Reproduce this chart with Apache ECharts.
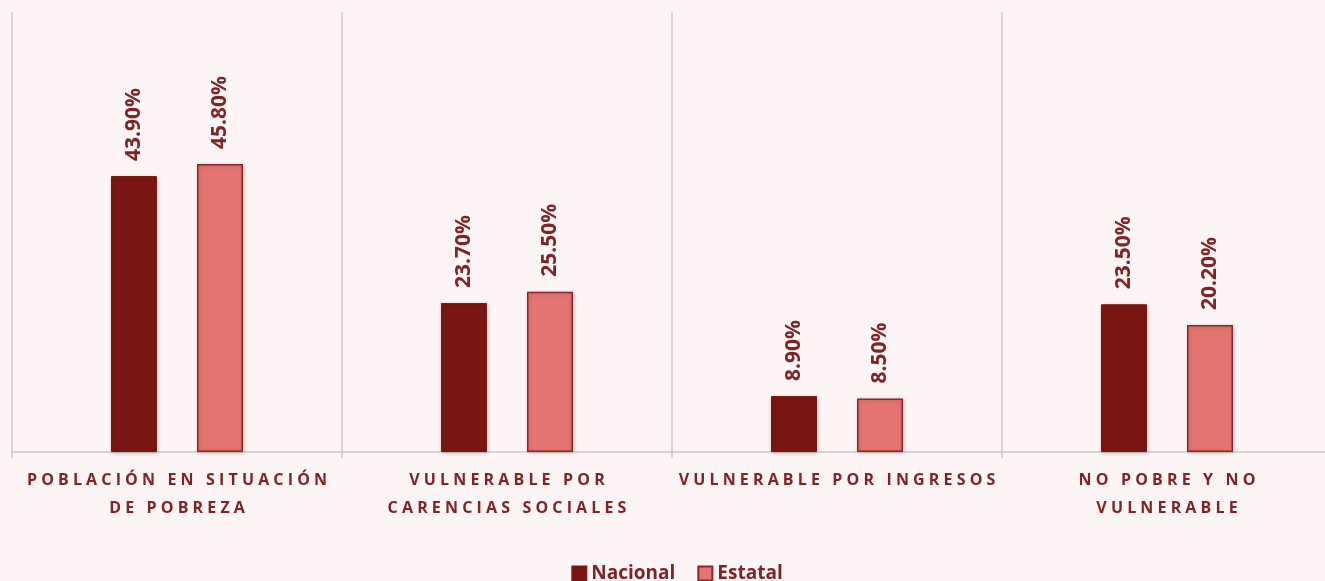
<!DOCTYPE html>
<html>
<head>
<meta charset="utf-8">
<script src="https://cdn.jsdelivr.net/npm/echarts@6/dist/echarts.min.js"></script>
<style>
  html, body { margin: 0; padding: 0; background: #fdf4f5; overflow: hidden; }
  #container { width: 1354px; height: 581px; }
</style>
</head>
<body>
<div id="container"></div>
<script>
let categories = ['POBLACIÓN EN SITUACIÓN\nDE POBREZA', 'VULNERABLE POR\nCARENCIAS SOCIALES', 'VULNERABLE POR INGRESOS', 'NO POBRE Y NO\nVULNERABLE'];
let nacional = [43.9, 23.7, 8.9, 23.5];
let estatal = [45.8, 25.5, 8.5, 20.2];

let textColor = '#7e2426';
let font = 'Open Sans';

// espaciado entre letras (echarts no tiene letterSpacing)
function spaced(str) {
    return str.split('\n').map(function (line) {
        return line.split(' ').map(function (w) {
            return w.split('').join(' ');
        }).join('   ');
    }).join('\n');
}

let labelOpt = {
    show: true,
    position: 'top',
    rotate: 90,
    align: 'left',
    verticalAlign: 'middle',
    distance: 15,
    color: textColor,
    fontFamily: font,
    fontWeight: 'bold',
    fontSize: 21,
    formatter: function (p) { return p.value.toFixed(2) + '%'; }
};

let dom = document.getElementById('container');
let myChart = echarts.init(dom);

let option = {
    backgroundColor: '#fdf4f5',
    animation: false,
    grid: { left: 12, top: 12, right: 22, height: 440 },
    legend: {
        bottom: -7,
        left: 'center',
        icon: 'rect',
        itemWidth: 14,
        itemHeight: 14,
        itemGap: 22,
        textStyle: { color: textColor, fontFamily: font, fontWeight: 'bold', fontSize: 19, padding: [0, 0, 0, 0] },
        data: ['Nacional', 'Estatal']
    },
    xAxis: {
        type: 'category',
        data: categories,
        axisLine: { lineStyle: { color: '#c8c8c8', width: 1.5 } },
        axisTick: { show: true, length: 6, lineStyle: { color: '#c8c8c8', width: 1.5 } },
        splitLine: { show: true, lineStyle: { color: '#cccccc', width: 1.5 } },
        axisLabel: {
            interval: 0,
            margin: 14,
            color: textColor,
            fontFamily: font,
            fontWeight: 'bold',
            fontSize: 16,
            lineHeight: 28,
            formatter: function (v) { return spaced(v); }
        }
    },
    yAxis: {
        type: 'value',
        min: 0,
        max: 70,
        show: false,
        splitLine: { show: false }
    },
    series: [
        {
            name: 'Nacional',
            type: 'bar',
            data: nacional,
            barWidth: 46,
            barGap: '87%',
            itemStyle: { color: '#7b1712', borderColor: '#7b1712', borderWidth: 1,
                shadowColor: 'rgba(0,0,0,0.2)', shadowBlur: 4, shadowOffsetX: 1, shadowOffsetY: 1 },
            label: labelOpt
        },
        {
            name: 'Estatal',
            type: 'bar',
            data: estatal,
            barWidth: 46,
            itemStyle: { color: '#e57572', borderColor: '#8e2528', borderWidth: 1.5,
                shadowColor: 'rgba(0,0,0,0.2)', shadowBlur: 4, shadowOffsetX: 1, shadowOffsetY: 1 },
            label: labelOpt
        }
    ]
};

if (option && typeof option === 'object') {
    myChart.setOption(option, true);
}
</script>
</body>
</html>
